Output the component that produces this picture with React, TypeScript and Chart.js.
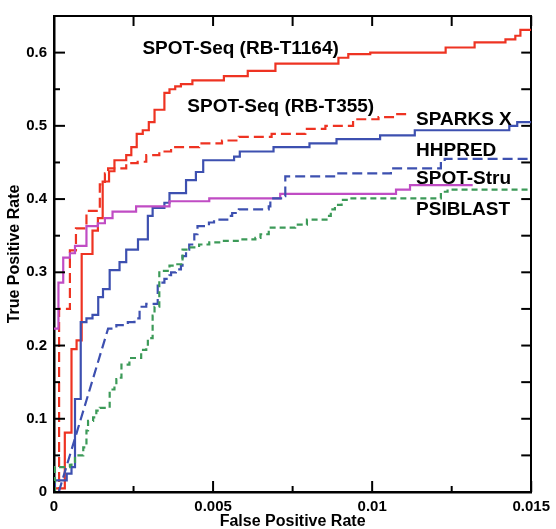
import React, { useEffect, useRef } from "react";
import { Chart, registerables } from "chart.js";

Chart.register(...registerables);

// ---- data (FPR, TPR) step corners ----
const spotSeqT1164: number[][] = [
  [0, 0.005], [0.00034, 0.081], [0.00055, 0.195], [0.00071, 0.207], [0.00087, 0.325],
  [0.00121, 0.357], [0.00138, 0.374], [0.00153, 0.424], [0.00173, 0.438], [0.0019, 0.453],
  [0.00227, 0.46], [0.00243, 0.471], [0.0026, 0.489], [0.00279, 0.494], [0.00298, 0.505],
  [0.00316, 0.522], [0.00347, 0.545], [0.00363, 0.55], [0.00381, 0.554], [0.00399, 0.557],
  [0.00435, 0.562], [0.00534, 0.568], [0.00609, 0.575], [0.00696, 0.585], [0.00894, 0.593],
  [0.00925, 0.598], [0.00994, 0.6], [0.01231, 0.607], [0.01322, 0.614], [0.01419, 0.618],
  [0.0145, 0.623], [0.01466, 0.631], [0.015, 0.631],
];

const spotSeqT355: number[][] = [
  [0, 0.0], [0.00016, 0.25], [0.0005, 0.33], [0.00069, 0.36], [0.00102, 0.384],
  [0.00144, 0.42], [0.0016, 0.435], [0.0017, 0.442], [0.00227, 0.449], [0.00263, 0.451],
  [0.0029, 0.46], [0.00331, 0.465], [0.00368, 0.471], [0.00456, 0.476], [0.00528, 0.48],
  [0.00581, 0.485], [0.00684, 0.489], [0.0079, 0.496], [0.00853, 0.5], [0.0094, 0.509],
  [0.0102, 0.512], [0.0107, 0.516], [0.0111, 0.516],
];

const sparksX: number[][] = [
  [0, 0.0], [0.00003, 0.016], [0.0004, 0.025], [0.00055, 0.034], [0.00066, 0.127],
  [0.00084, 0.232], [0.00102, 0.237], [0.00121, 0.242], [0.00139, 0.266], [0.00154, 0.277],
  [0.00175, 0.303], [0.00206, 0.314], [0.00227, 0.331], [0.00264, 0.345], [0.00295, 0.377],
  [0.0031, 0.388], [0.00347, 0.395], [0.00363, 0.408], [0.00415, 0.426], [0.00446, 0.437],
  [0.00469, 0.453], [0.00566, 0.458], [0.00584, 0.465], [0.0069, 0.471], [0.00803, 0.476],
  [0.00888, 0.482], [0.01025, 0.487], [0.01134, 0.494], [0.01431, 0.5], [0.01456, 0.505],
  [0.015, 0.505],
];

// first segment of HHPRED is a straight ramp, the rest are steps
const hhpred: number[][] = [
  [0.00015, 0.0], [0.0017, 0.223], [0.00196, 0.228], [0.00232, 0.232], [0.00253, 0.237],
  [0.00269, 0.253], [0.0029, 0.257], [0.00326, 0.282], [0.00337, 0.286], [0.00347, 0.291],
  [0.00363, 0.296], [0.00368, 0.3], [0.00383, 0.304], [0.00399, 0.309], [0.00404, 0.322],
  [0.00415, 0.331], [0.00425, 0.338], [0.00441, 0.352], [0.00451, 0.363], [0.00487, 0.368],
  [0.00503, 0.372], [0.0055, 0.377], [0.0056, 0.381], [0.00581, 0.386], [0.00675, 0.39],
  [0.0068, 0.401], [0.0072, 0.404], [0.00727, 0.431], [0.00888, 0.435], [0.01059, 0.442],
  [0.01216, 0.451], [0.01228, 0.455], [0.015, 0.455],
];

const spotStru: number[][] = [
  [0, 0.223], [0.00014, 0.286], [0.00029, 0.32], [0.0005, 0.326], [0.00066, 0.336],
  [0.00102, 0.363], [0.00138, 0.367], [0.0016, 0.374], [0.00184, 0.383], [0.00258, 0.39],
  [0.00363, 0.397], [0.00488, 0.401], [0.00711, 0.407], [0.01075, 0.413], [0.01119, 0.419],
  [0.01316, 0.419],
];

const psiblast: number[][] = [
  [0, 0.0], [0.00003, 0.034], [0.0005, 0.037], [0.00055, 0.041], [0.00066, 0.05],
  [0.00092, 0.061], [0.00102, 0.084], [0.00107, 0.097], [0.00123, 0.102], [0.00133, 0.111],
  [0.00144, 0.115], [0.00175, 0.14], [0.0019, 0.145], [0.00196, 0.154], [0.00206, 0.156],
  [0.00212, 0.174], [0.00237, 0.183], [0.00274, 0.194], [0.0029, 0.199], [0.00295, 0.21],
  [0.0031, 0.241], [0.00316, 0.253], [0.00331, 0.302], [0.00363, 0.309], [0.00383, 0.311],
  [0.00404, 0.331], [0.00425, 0.334], [0.00456, 0.338], [0.00488, 0.341], [0.00528, 0.343],
  [0.00581, 0.345], [0.00633, 0.347], [0.00649, 0.352], [0.00675, 0.361], [0.00758, 0.365],
  [0.00795, 0.372], [0.0086, 0.377], [0.0087, 0.386], [0.00883, 0.392], [0.00904, 0.399],
  [0.00935, 0.401], [0.01216, 0.41], [0.01237, 0.413], [0.015, 0.413],
];

const xTickValues = [0, 0.0025, 0.005, 0.0075, 0.01, 0.0125, 0.015];
const xTickLabels = ["0", "", "0.005", "", "0.01", "", "0.015"];
const yTickValues = [0, 0.05, 0.1, 0.15, 0.2, 0.25, 0.3, 0.35, 0.4, 0.45, 0.5, 0.55, 0.6];
const yTickLabels = ["0", "", "0.1", "", "0.2", "", "0.3", "", "0.4", "", "0.5", "", "0.6"];

const seriesNames = [
  "SPOT-Seq (RB-T1164)",
  "SPOT-Seq (RB-T355)",
  "SPARKS X",
  "HHPRED",
  "SPOT-Stru",
  "PSIBLAST",
];

// ---- label placement (data coords) ----
const labelAnchors: { text: string; x: number; y: number }[] = [
  { text: seriesNames[0], x: 0.00278, y: 0.605 },
  { text: seriesNames[1], x: 0.00419, y: 0.526 },
  { text: seriesNames[2], x: 0.01138, y: 0.508 },
  { text: seriesNames[3], x: 0.01138, y: 0.466 },
  { text: seriesNames[4], x: 0.01138, y: 0.428 },
  { text: seriesNames[5], x: 0.01138, y: 0.385 },
];

const FONT = '"Liberation Sans", Arial, Helvetica, sans-serif';

function stepPoints(pts: number[][], linearHead = 0) {
  const out: { x: number; y: number }[] = [];
  for (let i = 0; i < pts.length; i++) {
    out.push({ x: pts[i][0], y: pts[i][1] });
    if (i + 1 < pts.length && i >= linearHead) {
      out.push({ x: pts[i + 1][0], y: pts[i][1] });
    }
  }
  return out;
}

const frameTicks = {
  id: "frameTicks",
  afterDraw(chart: any) {
    const { ctx, chartArea } = chart;
    const { left, right, top, bottom } = chartArea;
    const xs = chart.scales.x;
    const ys = chart.scales.y;
    ctx.save();
    ctx.strokeStyle = "#000";
    ctx.lineWidth = 2;
    const line = (x1: number, y1: number, x2: number, y2: number) => {
      ctx.beginPath();
      ctx.moveTo(x1, y1);
      ctx.lineTo(x2, y2);
      ctx.stroke();
    };
    xs.ticks.forEach((t: any, i: number) => {
      const px = xs.getPixelForValue(t.value);
      const major = xTickLabels[i] !== "";
      line(px, bottom, px, bottom - (major ? 11 : 6));
      line(px, top, px, top + 10);
    });
    ys.ticks.forEach((t: any, i: number) => {
      const py = ys.getPixelForValue(t.value);
      const major = yTickLabels[i] !== "";
      line(left, py, left + (major ? 11 : 6), py);
      line(right, py, right - 10, py);
    });
    ctx.restore();
  },
};

const seriesLabels = {
  id: "seriesLabels",
  afterDatasetsDraw(chart: any) {
    const { ctx } = chart;
    const xs = chart.scales.x;
    const ys = chart.scales.y;
    ctx.save();
    ctx.fillStyle = "#000";
    ctx.font = `bold 19px ${FONT}`;
    ctx.textAlign = "left";
    ctx.textBaseline = "middle";
    labelAnchors.forEach((l) => {
      ctx.fillText(l.text, xs.getPixelForValue(l.x), ys.getPixelForValue(l.y));
    });
    ctx.restore();
  },
};

export default function App() {
  const ref = useRef<HTMLCanvasElement | null>(null);

  useEffect(() => {
    if (!ref.current) return;
    const RED = "#ee3322";
    const BLUE = "#3d50b0";
    const MAG = "#c04cc4";
    const GREEN = "#3c9a58";
    const ds = (label: string, data: any[], color: string, dash: number[]) => ({
      label,
      data,
      borderColor: color,
      backgroundColor: color,
      borderWidth: 2.2,
      borderDash: dash,
      pointRadius: 0,
      fill: false,
      tension: 0,
    });
    const chart = new Chart(ref.current, {
      type: "line",
      data: {
        datasets: [
          ds(seriesNames[5], stepPoints(psiblast), GREEN, [6, 4]),
          ds(seriesNames[3], stepPoints(hhpred, 1), BLUE, [10, 5]),
          ds(seriesNames[4], stepPoints(spotStru), MAG, []),
          ds(seriesNames[2], stepPoints(sparksX), BLUE, []),
          ds(seriesNames[1], stepPoints(spotSeqT355), RED, [10, 5]),
          ds(seriesNames[0], stepPoints(spotSeqT1164), RED, []),
        ],
      },
      options: {
        responsive: false,
        animation: false,
        devicePixelRatio: 1,
        layout: { padding: { top: 12, right: 22, left: 0, bottom: 0 } },
        plugins: { legend: { display: false }, tooltip: { enabled: false } },
        scales: {
          x: {
            type: "linear",
            position: "bottom",
            min: 0,
            max: 0.015,
            afterBuildTicks: (s: any) => {
              s.ticks = xTickValues.map((v) => ({ value: v }));
            },
            afterFit: (s: any) => {
              s.height = 37;
            },
            ticks: {
              autoSkip: false,
              maxRotation: 0,
              padding: 6,
              color: "#000",
              font: { family: FONT, size: 15, weight: "bold" },
              callback: (_v: any, i: number) => xTickLabels[i],
            },
            grid: { display: false, drawTicks: false },
            border: { display: true, color: "#000", width: 2.5 },
            title: {
              display: true,
              text: "False Positive Rate",
              color: "#000",
              font: { family: FONT, size: 16, weight: "bold", lineHeight: 1 },
              padding: { top: 0, bottom: -1 },
            },
          },
          y: {
            type: "linear",
            position: "left",
            min: 0,
            max: 0.65,
            afterBuildTicks: (s: any) => {
              s.ticks = yTickValues.map((v) => ({ value: v }));
            },
            afterFit: (s: any) => {
              s.width = 54;
            },
            ticks: {
              autoSkip: false,
              padding: 7,
              color: "#000",
              font: { family: FONT, size: 15, weight: "bold" },
              callback: (_v: any, i: number) => yTickLabels[i],
            },
            grid: { display: false, drawTicks: false },
            border: { display: true, color: "#000", width: 2.5 },
            title: {
              display: true,
              text: "True Positive Rate",
              color: "#000",
              font: { family: FONT, size: 16, weight: "bold", lineHeight: 1 },
              padding: { top: 7, bottom: 0 },
            },
          },
          x2: {
            type: "linear",
            axis: "x",
            position: "top",
            min: 0,
            max: 0.015,
            ticks: { display: false },
            grid: { display: false, drawTicks: false },
            border: { display: true, color: "#000", width: 2 },
            afterFit: (s: any) => {
              s.height = 0;
            },
          },
          y2: {
            type: "linear",
            axis: "y",
            position: "right",
            min: 0,
            max: 0.65,
            ticks: { display: false },
            grid: { display: false, drawTicks: false },
            border: { display: true, color: "#000", width: 2 },
            afterFit: (s: any) => {
              s.width = 0;
            },
          },
        },
      } as any,
      plugins: [frameTicks, seriesLabels],
    });
    return () => chart.destroy();
  }, []);

  return (
    <div style={{ position: "absolute", left: 0, top: 0, width: 556, height: 529, background: "#fff" }}>
      <canvas ref={ref} width={556} height={529} style={{ display: "block" }} />
    </div>
  );
}
